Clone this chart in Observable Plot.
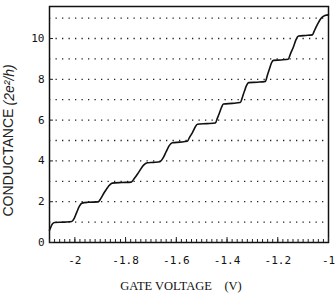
<!DOCTYPE html>
<html>
<head>
<meta charset="utf-8">
<script src="https://cdn.jsdelivr.net/npm/d3@7"></script>
<script src="https://cdn.jsdelivr.net/npm/@observablehq/plot@0.6"></script>
<style>
  html, body { margin: 0; padding: 0; background: #fff; }
  #chart svg { display: block; }
</style>
</head>
<body>
<div id="chart"></div>
<script>
// Gate voltage (V) and conductance (units of 2e^2/h)
const gateVoltage = [
  -2.100, -2.094, -2.088, -2.080, -2.040, -2.012, -2.002, -1.992, -1.982, -1.972,
  -1.950, -1.908, -1.898, -1.884, -1.868, -1.853, -1.815, -1.778, -1.765, -1.748,
  -1.730, -1.714, -1.690, -1.664, -1.652, -1.640, -1.628, -1.616, -1.585, -1.557,
  -1.548, -1.536, -1.526, -1.517, -1.480, -1.446, -1.438, -1.430, -1.422, -1.414,
  -1.380, -1.348, -1.340, -1.332, -1.323, -1.315, -1.280, -1.249, -1.241, -1.233,
  -1.225, -1.217, -1.188, -1.159, -1.150, -1.138, -1.128, -1.118, -1.090, -1.064,
  -1.055, -1.043, -1.030, -1.014, -1.000
];
const conductance = [
  0.60, 0.78, 0.92, 0.98, 1.00, 1.03, 1.20, 1.50, 1.78, 1.93,
  1.97, 1.99, 2.15, 2.45, 2.75, 2.91, 2.94, 2.96, 3.15, 3.45,
  3.78, 3.91, 3.93, 3.96, 4.15, 4.45, 4.75, 4.89, 4.92, 4.96,
  5.15, 5.40, 5.65, 5.80, 5.83, 5.86, 6.10, 6.35, 6.62, 6.79,
  6.82, 6.86, 7.10, 7.40, 7.70, 7.84, 7.86, 7.90, 8.20, 8.50,
  8.80, 8.93, 8.95, 8.98, 9.25, 9.60, 9.95, 10.12, 10.15, 10.18,
  10.40, 10.70, 10.98, 11.13, 11.16
];
const gridLevels = [1, 2, 3, 4, 5, 6, 7, 8, 9, 10, 11];
const xTicks = [-2, -1.8, -1.6, -1.4, -1.2, -1];
const yTicks = [0, 2, 4, 6, 8, 10];
const xDomain = [-2.1, -1.0];
const yDomain = [0, 11.57];
const xTitle = "GATE VOLTAGE\u00a0\u00a0\u00a0\u00a0(V)";
const yTitleMain = "CONDUCTANCE";
const yTitleUnit = "(2e\u00b2/h)";

const data = gateVoltage.map((v, i) => ({v, g: conductance[i]}));
const mono = "'DejaVu Sans Mono', 'Liberation Mono', monospace";

const chart = Plot.plot({
  width: 335,
  height: 302,
  marginLeft: 49,
  marginRight: 7,
  marginTop: 6,
  marginBottom: 60,
  style: {background: "#fff", color: "#111"},
  x: {domain: xDomain},
  y: {domain: yDomain},
  marks: [
    Plot.ruleY(gridLevels, {stroke: "#222", strokeWidth: 1.3, strokeDasharray: "1.3,5.2", strokeLinecap: "butt"}),
    Plot.line(data, {x: "v", y: "g", curve: "monotone-x", stroke: "#111", strokeWidth: 1.6}),
    Plot.frame({stroke: "#111", strokeWidth: 1.5}),
    // minor ticks along bottom edge
    Plot.axisX({ticks: 55, tickSize: -3, text: null, label: null, stroke: "#222"}),
    // major x ticks and labels
    Plot.axisX({ticks: xTicks, tickSize: -5, text: null, label: null, stroke: "#222"}),
    Plot.axisX({ticks: xTicks, tickSize: 0, tickPadding: 14, tickFormat: d => String(d),
      label: null, fontFamily: mono, fontSize: 11, fill: "#111"}),
    // y ticks and labels
    Plot.axisY({ticks: yTicks, tickSize: -4, text: null, label: null, stroke: "#222"}),
    Plot.axisY({ticks: yTicks, tickSize: 0, tickPadding: 5, tickFormat: d => String(d),
      label: null, fontFamily: mono, fontSize: 11, fill: "#111"}),
    // axis titles
    Plot.text([xTitle], {frameAnchor: "bottom", dx: -8, dy: 47, fontFamily: "'Liberation Serif', serif",
      fontSize: 12.5, fill: "#111"}),
    Plot.text([yTitleMain], {frameAnchor: "bottom-left", rotate: -90, textAnchor: "start", dx: -37, dy: -26,
      fontFamily: "'Liberation Sans', sans-serif", fontSize: 14, fill: "#222"}),
    Plot.text([yTitleUnit], {frameAnchor: "bottom-left", rotate: -90, textAnchor: "start", dx: -36, dy: -137,
      fontFamily: "'Liberation Sans', sans-serif", fontStyle: "italic", fontSize: 14, fill: "#222"})
  ]
});
document.getElementById("chart").appendChild(chart);
</script>
</body>
</html>
